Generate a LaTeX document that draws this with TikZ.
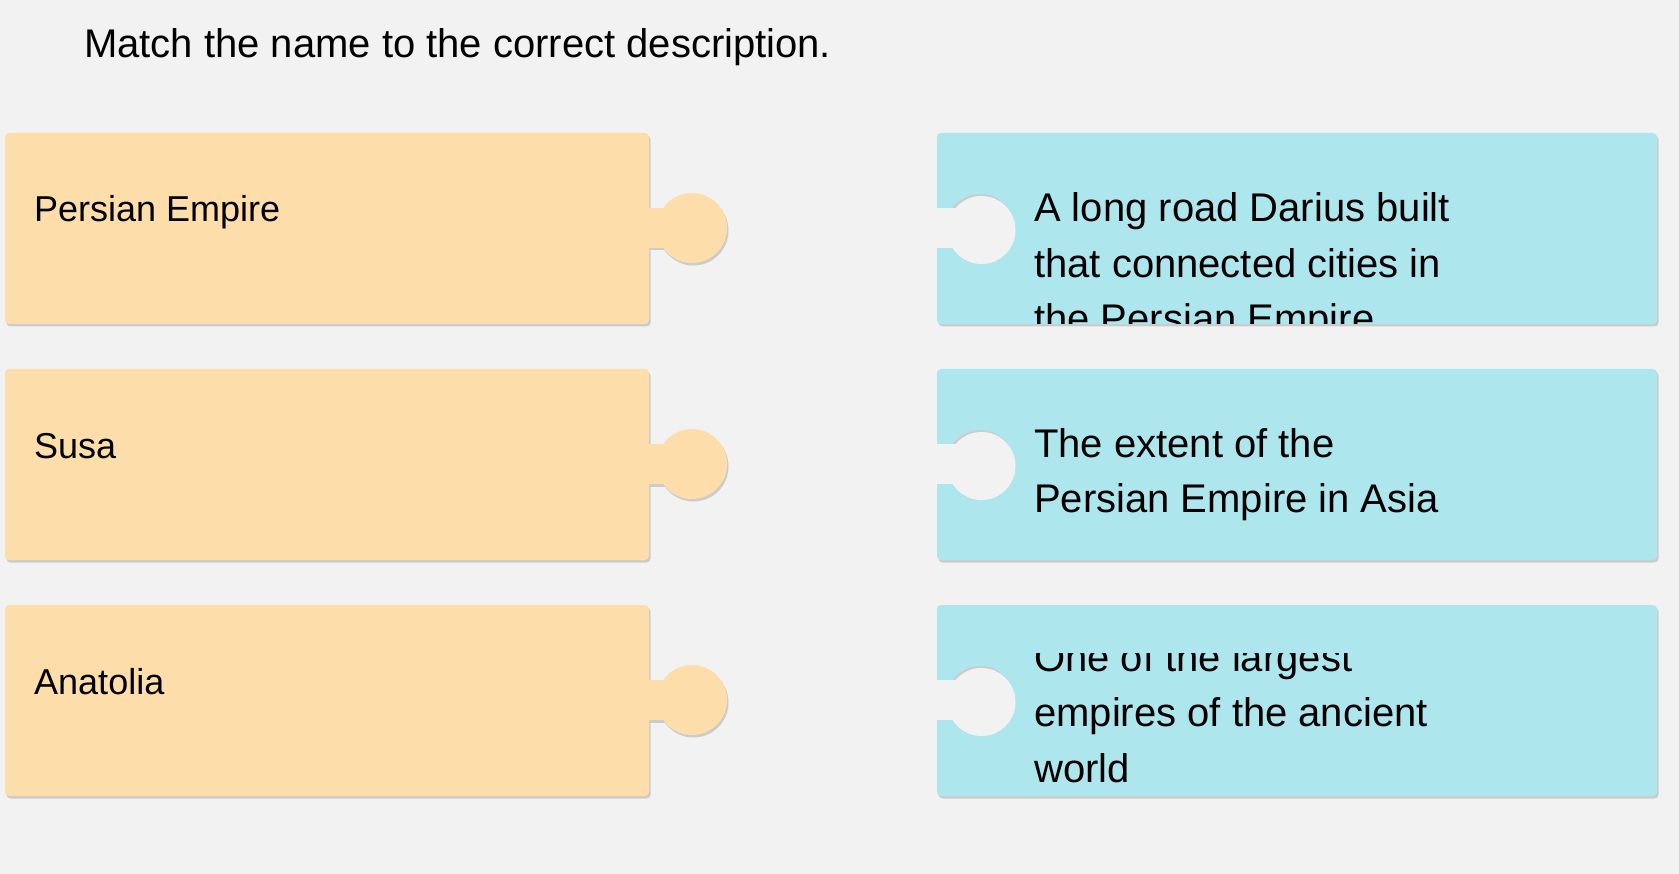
\documentclass[tikz,border=0pt]{standalone}
\usepackage{fontspec}
\setmainfont{Liberation Sans}
\definecolor{pagebg}{RGB}{242,242,242}
\definecolor{namefill}{RGB}{253,222,171}
\definecolor{descfill}{RGB}{174,230,238}
\definecolor{edgeshade}{RGB}{204,204,204}
\tikzset{
  nametext/.style={anchor=base west, inner sep=0pt, font=\fontsize{36}{43}\selectfont},
  desctext/.style={anchor=base west, inner sep=0pt, font=\fontsize{40}{48}\selectfont},
}

\begin{document}
\begin{tikzpicture}[x=1pt,y=-1pt]
	\fill[pagebg] (0,0) rectangle (1679,874);
	\useasboundingbox (0,0) rectangle (1679,874);
	\node[desctext] (task) at (84,58) {Match the name to the correct description.};
	% name pieces with a knob on the right
	\foreach \t/\name/\lab in {133/persia/Persian Empire, 369/susa/Susa, 605/anatolia/Anatolia}{
		\begin{scope}[shift={(1.5,2.5)}]
			\fill[edgeshade, rounded corners=4pt] (5,\t) rectangle (649,\t+191);
			\fill[edgeshade] (645,\t+75) rectangle (670,\t+115);
			\fill[edgeshade] (692,\t+95) circle (35);
		\end{scope}
		\fill[namefill, rounded corners=4pt] (5,\t) rectangle (649,\t+191);
		\fill[namefill] (645,\t+75) rectangle (670,\t+115);
		\fill[namefill] (692,\t+95) circle (35);
		\node[nametext] (\name) at (34,\t+89) {\lab};
	}
	% description pieces with a socket on the left
	\foreach \t in {133,369,605}{
		\fill[edgeshade, rounded corners=4pt] (938.5,\t+2.5) rectangle (1658.5,\t+193.5);
		\fill[descfill, rounded corners=4pt] (937,\t) rectangle (1657,\t+191);
		\fill[edgeshade] (980,\t+95) circle (34);
		\fill[pagebg] (981.5,\t+97) circle (34);
		\fill[pagebg] (930,\t+75) rectangle (960,\t+115);
	}
	\begin{scope}
		\clip (937,183) rectangle (1657,324);
		\node[desctext] (road1) at (1034,222) {A long road Darius built};
		\node[desctext] (road2) at (1034,277.5) {that connected cities in};
		\node[desctext] (road3) at (1034,333) {the Persian Empire};
	\end{scope}
	\node[desctext] (extent1) at (1034,457) {The extent of the};
	\node[desctext] (extent2) at (1034,512.5) {Persian Empire in Asia};
	\begin{scope}
		\clip (937,653) rectangle (1657,796);
		\node[desctext] (large1) at (1034,671) {One of the largest};
		\node[desctext] (large2) at (1034,726.5) {empires of the ancient};
		\node[desctext] (large3) at (1034,782) {world};
	\end{scope}
\end{tikzpicture}
\end{document}
